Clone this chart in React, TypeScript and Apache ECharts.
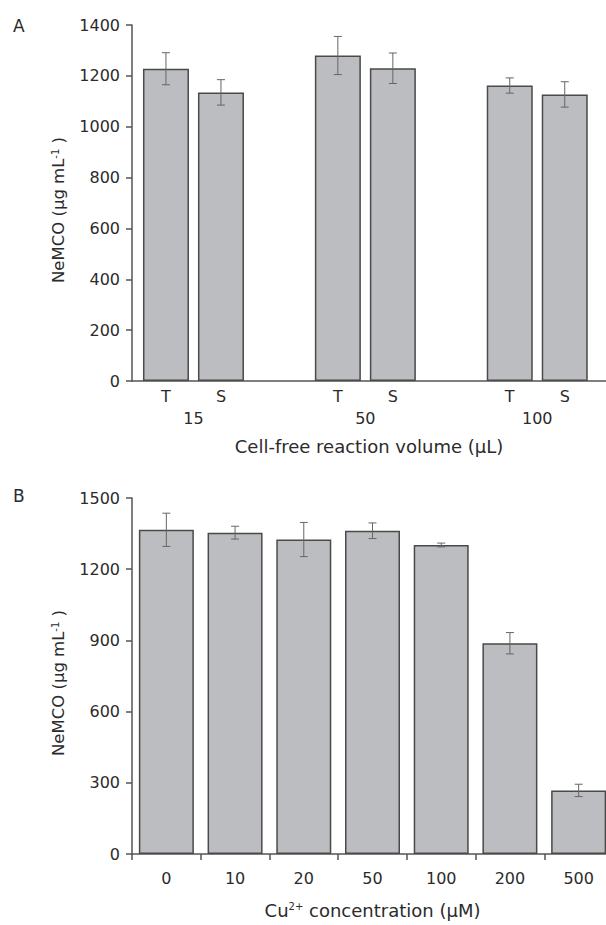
import React, { useEffect, useRef } from 'react';
import * as echarts from 'echarts';

// Panel A data
const volumeGroups = ['15', '50', '100'];
const fractionNames = ['T', 'S'];
const totalMeans = [1228, 1280, 1162];
const totalSD = [63, 75, 30];
const solubleMeans = [1135, 1230, 1127];
const solubleSD = [50, 60, 50];
const yTicksA = { min: 0, max: 1400, interval: 200 };

// Panel B data
const cuCategories = ['0', '10', '20', '50', '100', '200', '500'];
const cuMeans = [1366, 1354, 1325, 1362, 1302, 888, 268];
const cuSD = [70, 27, 72, 33, 8, 45, 26];
const yTicksB = { min: 0, max: 1500, interval: 300 };

const FONT = "'DejaVu Sans', 'Liberation Sans', Arial, sans-serif";
const TXT = '#2b2b2b';
const AXIS = '#555555';
const BAR_FILL = '#bcbdc0';
const BAR_EDGE = '#4a4a4a';
const ERR = '#666666';

const BAR_W_A = 46;
const GAP_A = 9;
const HALF_PITCH_A = (BAR_W_A + GAP_A) / 2;
const CAP = 4;
const FS = 16;
const XNAME_FS = 18;
const YNAME_FS = 16.5;

const yName = 'NeMCO (μg mL{sup|-1} )';
const richSup = { sup: { fontSize: 10, verticalAlign: 'top', fontFamily: FONT, color: TXT, lineHeight: 14 } };

function errGroup(x: number, yTop: number, yBot: number) {
  const st = { stroke: ERR, lineWidth: 1 };
  return [
    { type: 'line', shape: { x1: x, y1: yTop, x2: x, y2: yBot }, style: st },
    { type: 'line', shape: { x1: x - CAP, y1: yTop, x2: x + CAP, y2: yTop }, style: st },
    { type: 'line', shape: { x1: x - CAP, y1: yBot, x2: x + CAP, y2: yBot }, style: st },
  ];
}

export default function App() {
  const ref = useRef<HTMLDivElement>(null);
  useEffect(() => {
    if (!ref.current) return;
    const chart = echarts.init(ref.current, undefined, { renderer: 'svg' });

    const errDataA: number[][] = [];
    [totalMeans, solubleMeans].forEach((arr, f) => {
      const sds = f === 0 ? totalSD : solubleSD;
      arr.forEach((m, g) => errDataA.push([g, m, sds[g], f]));
    });

    const yAxisCommon = {
      type: 'value',
      splitLine: { show: false },
      axisLine: { show: true, onZero: false, lineStyle: { color: AXIS, width: 1.5 } },
      axisTick: { show: true, length: 6, lineStyle: { color: AXIS, width: 1.5 } },
      axisLabel: { fontSize: FS, color: TXT, fontFamily: FONT, margin: 12, formatter: (v: number) => String(v) },
      name: yName,
      nameLocation: 'middle',
      nameRotate: 90,
      nameGap: 65,
      nameTextStyle: { fontSize: YNAME_FS, color: TXT, fontFamily: FONT, rich: richSup, padding: [0, 14, 0, 0] },
    };

    chart.setOption({
      animation: false,
      textStyle: { fontFamily: FONT },
      grid: [
        { left: 132, top: 25, right: 0, height: 356, outerBoundsMode: 'none', containLabel: false },
        { left: 132, top: 498, right: -7, height: 356, outerBoundsMode: 'none', containLabel: false },
      ],
      xAxis: [
        {
          gridIndex: 0,
          type: 'value',
          min: -0.3576,
          max: 2.4,
          splitLine: { show: false },
          axisLabel: { show: false },
          axisTick: { show: false },
          axisLine: { show: true, onZero: false, lineStyle: { color: AXIS, width: 1.5 } },
          name: 'Cell-free reaction volume (μL)',
          nameLocation: 'middle',
          nameGap: 56,
          nameTextStyle: { fontSize: XNAME_FS, color: TXT, fontFamily: FONT },
        },
        {
          gridIndex: 1,
          type: 'category',
          data: cuCategories,
          boundaryGap: true,
          splitLine: { show: false },
          axisLine: { show: true, onZero: false, lineStyle: { color: AXIS, width: 1.5 } },
          axisTick: { show: true, length: 6, lineStyle: { color: AXIS, width: 1.5 } },
          axisLabel: { fontSize: FS, color: TXT, fontFamily: FONT, margin: 16 },
          name: 'Cu{sup|2+} concentration (μM)',
          nameLocation: 'middle',
          nameGap: 47,
          nameTextStyle: { fontSize: XNAME_FS, color: TXT, fontFamily: FONT, rich: richSup },
        },
      ],
      yAxis: [
        { ...yAxisCommon, gridIndex: 0, ...yTicksA },
        { ...yAxisCommon, gridIndex: 1, ...yTicksB },
      ],
      graphic: [
        { type: 'text', left: 13, top: 17, style: { text: 'A', fontSize: 17, fill: TXT, fontFamily: FONT } },
        { type: 'text', left: 13, top: 487, style: { text: 'B', fontSize: 17, fill: TXT, fontFamily: FONT } },
      ],
      series: [
        {
          name: fractionNames[0],
          type: 'bar',
          xAxisIndex: 0,
          yAxisIndex: 0,
          data: totalMeans.map((v, i) => [i, v]),
          barWidth: BAR_W_A,
          barGap: `${(GAP_A / BAR_W_A) * 100}%`,
          itemStyle: { color: BAR_FILL, borderColor: BAR_EDGE, borderWidth: 1.5 },
        },
        {
          name: fractionNames[1],
          type: 'bar',
          xAxisIndex: 0,
          yAxisIndex: 0,
          data: solubleMeans.map((v, i) => [i, v]),
          barWidth: BAR_W_A,
          barGap: `${(GAP_A / BAR_W_A) * 100}%`,
          itemStyle: { color: BAR_FILL, borderColor: BAR_EDGE, borderWidth: 1.5 },
        },
        {
          type: 'custom',
          xAxisIndex: 0,
          yAxisIndex: 0,
          clip: false,
          z: 5,
          data: errDataA,
          renderItem: (params: any, api: any) => {
            const g = api.value(0), m = api.value(1), sd = api.value(2), f = api.value(3);
            const top = api.coord([g, m + sd]);
            const bot = api.coord([g, m - sd]);
            const base = api.coord([g, 0]);
            const x = top[0] + (f === 0 ? -HALF_PITCH_A : HALF_PITCH_A);
            return {
              type: 'group',
              children: [
                ...errGroup(x, top[1], bot[1]),
                {
                  type: 'text',
                  x,
                  y: base[1] + 15,
                  style: { text: fractionNames[f], fontSize: FS, fill: TXT, fontFamily: FONT, align: 'center', verticalAlign: 'middle' },
                },
              ],
            };
          },
        },
        {
          type: 'custom',
          xAxisIndex: 0,
          yAxisIndex: 0,
          clip: false,
          data: volumeGroups.map((_, i) => [i, 0]),
          renderItem: (params: any, api: any) => {
            const p = api.coord([api.value(0), 0]);
            return {
              type: 'text',
              x: p[0],
              y: p[1] + 37,
              style: { text: volumeGroups[params.dataIndex], fontSize: FS, fill: TXT, fontFamily: FONT, align: 'center', verticalAlign: 'middle' },
            };
          },
        },
        {
          type: 'bar',
          xAxisIndex: 1,
          yAxisIndex: 1,
          data: cuMeans,
          barWidth: 55,
          itemStyle: { color: BAR_FILL, borderColor: BAR_EDGE, borderWidth: 1.5 },
        },
        {
          type: 'custom',
          xAxisIndex: 1,
          yAxisIndex: 1,
          clip: false,
          z: 5,
          data: cuMeans.map((m, i) => [i, m, cuSD[i]]),
          renderItem: (params: any, api: any) => {
            const i = api.value(0), m = api.value(1), sd = api.value(2);
            const top = api.coord([i, m + sd]);
            const bot = api.coord([i, m - sd]);
            return { type: 'group', children: errGroup(top[0], top[1], bot[1]) };
          },
        },
      ],
    });
    return () => chart.dispose();
  }, []);
  return <div ref={ref} style={{ position: 'absolute', left: 0, top: 0, width: 606, height: 925 }} />;
}
